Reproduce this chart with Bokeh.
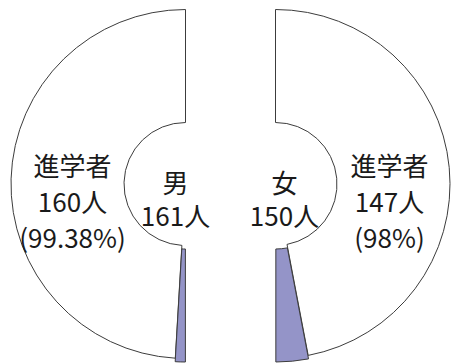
import math
from bokeh.plotting import figure
from bokeh.models import Range1d, ColumnDataSource
from bokeh.core.properties import value
from bokeh.embed import file_html
from bokeh.resources import INLINE

# ---- data ----
genders = ["男", "女"]
totals = [161, 150]          # 人数
advancing = [160, 147]       # 進学者
others = [1, 3]              # その他
pct_labels = ["99.38%", "98%"]

# ---- layout / style ----
W, H = 451, 363
FONT = value("Noto Sans CJK JP")
PURPLE = "#9494C8"
EDGE = "#3c3c3c"
R_OUT, R_IN = 174.5, 61.5
EMPH = 3.0       # visual emphasis of the small slice (half-donut scale)
EXPLODE = 3.5

p = figure(width=W, height=H, output_backend="svg", toolbar_location=None,
           x_range=Range1d(0, W), y_range=Range1d(0, H),
           min_border=0)
p.axis.visible = False
p.grid.visible = False
p.outline_line_color = None
p.background_fill_color = "white"

cy = H - 183.5
centers = [185.0, 275.0]
sides = [1, -1]   # 1: left half, -1: right half

for i in range(2):
    cx = centers[i]
    theta = others[i] / totals[i] * math.pi * EMPH
    down = 1.5 * math.pi
    if sides[i] == 1:
        w_start, w_end = 0.5 * math.pi, down - theta
        p_start, p_end = down - theta, down
    else:
        w_start, w_end = -0.5 * math.pi + theta, 0.5 * math.pi
        p_start, p_end = -0.5 * math.pi, -0.5 * math.pi + theta
    p.annular_wedge(x=cx, y=cy, inner_radius=R_IN, outer_radius=R_OUT,
                    start_angle=w_start, end_angle=w_end,
                    fill_color="white", line_color=EDGE, line_width=1)
    mid = (p_start + p_end) / 2
    p.annular_wedge(x=cx + EXPLODE * math.cos(mid), y=cy + EXPLODE * math.sin(mid),
                    inner_radius=R_IN, outer_radius=R_OUT,
                    start_angle=p_start, end_angle=p_end,
                    fill_color=PURPLE, line_color=EDGE, line_width=1)

# labels
outer_x = [72, 389]
center_x = [175, 284]
lines_y = [H - 164, H - 200, H - 236]
src = ColumnDataSource(dict(
    x=[outer_x[0]] * 3 + [outer_x[1]] * 3 + [center_x[0]] * 2 + [center_x[1]] * 2,
    y=lines_y + lines_y + [H - 181, H - 214] * 2,
    t=["進学者", f"{advancing[0]}人", f"({pct_labels[0]})",
       "進学者", f"{advancing[1]}人", f"({pct_labels[1]})",
       genders[0], f"{totals[0]}人", genders[1], f"{totals[1]}人"],
))
p.text(x="x", y="y", text="t", source=src, text_font=FONT,
       text_font_size="26px", text_align="center", text_baseline="middle",
       text_color="#1a1a1a")

open("out.html", "w").write(file_html(p, INLINE))
